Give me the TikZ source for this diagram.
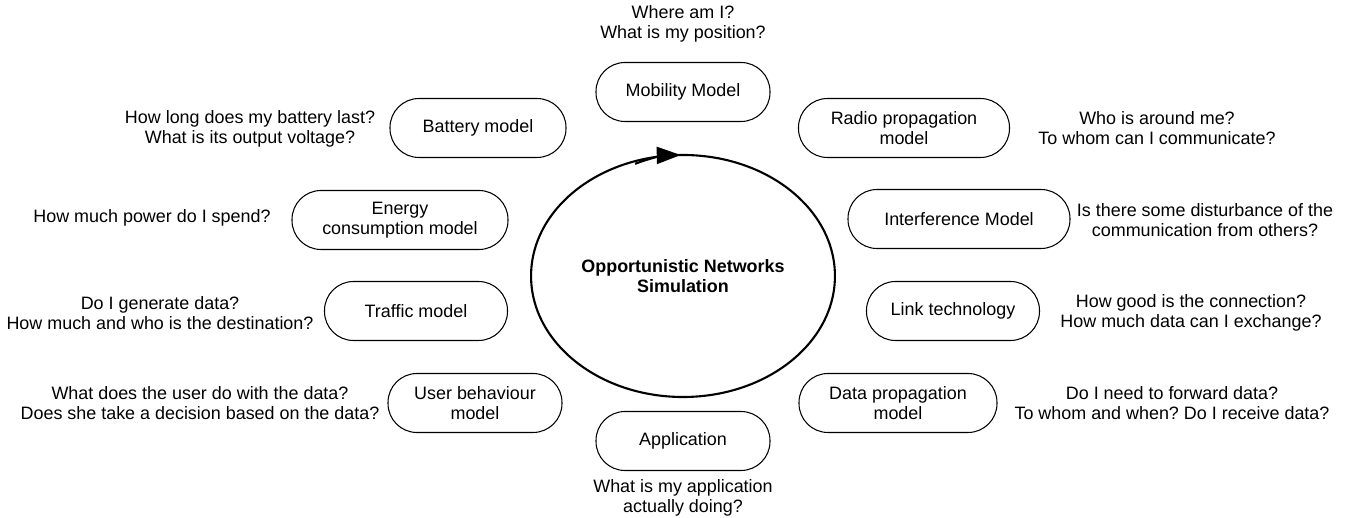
\documentclass[tikz,border=0pt]{standalone}
\usepackage{fontspec}
\setmainfont{Liberation Sans}
\usetikzlibrary{shapes.geometric, arrows.meta}

\begin{document}
\frenchspacing
\begin{tikzpicture}[every node/.style={font=\fontsize{10.2}{11.4}\selectfont},
  model/.style={draw, line width=0.6pt, rounded corners=0.58cm, minimum height=1.18cm, align=center, inner sep=2pt},
  question/.style={align=center, inner sep=0pt}]

\useasboundingbox (0,0) rectangle (27.12,10.36);

% ---- simulation loop ----
\node[draw, ellipse, line width=1.2pt, minimum width=5.12cm, minimum height=4.84cm,
  font=\fontsize{10.2}{11.4}\selectfont\bfseries, align=center] (sim) at (13.66,4.84) {Opportunistic Networks\\Simulation};

\draw[line width=1.2pt, -{Triangle[length=0.48cm, width=0.34cm]}]
  (sim.center) ++(112:2.56cm and 2.42cm) arc[start angle=112, end angle=91, x radius=2.56cm, y radius=2.42cm];

% ---- models ----
\node[model, minimum width=3.48cm] (mob) at (13.66,8.52) {Mobility Model};
\node[model, minimum width=4.22cm] (radio) at (18.08,7.80) {Radio propagation\\model};
\node[model, minimum width=4.44cm] (interf) at (19.18,5.98) {Interference Model};
\node[model, minimum width=3.46cm] (link) at (19.06,4.14) {Link technology};
\node[model, minimum width=3.96cm] (datap) at (17.96,2.30) {Data propagation\\model};
\node[model, minimum width=3.48cm] (app) at (13.66,1.54) {Application};
\node[model, minimum width=3.48cm] (user) at (9.50,2.30) {User behaviour\\model};
\node[model, minimum width=3.66cm] (traffic) at (8.32,4.14) {Traffic model};
\node[model, minimum width=4.32cm] (energy) at (8.00,5.96) {Energy\\consumption model};
\node[model, minimum width=3.52cm] (batt) at (9.56,7.80) {Battery model};

% ---- questions ----
\node[question] (qmob) at (13.66,9.88) {Where am I?\\What is my position?};
\node[question] (qradio) at (23.14,7.80) {Who is around me?\\To whom can I communicate?};
\node[question] (qinterf) at (24.10,5.96) {Is there some disturbance of the\\communication from others?};
\node[question] (qlink) at (23.82,4.10) {How good is the connection?\\How much data can I exchange?};
\node[question] (qdatap) at (23.44,2.30) {Do I need to forward data?\\To whom and when? Do I receive data?};
\node[question] (qapp) at (13.66,0.40) {What is my application\\actually doing?};
\node[question] (quser) at (4.00,2.30) {What does the user do with the data?\\Does she take a decision based on the data?};
\node[question] (qtraffic) at (3.20,4.10) {Do I generate data?\\How much and who is the destination?};
\node[question] (qenergy) at (3.04,6.00) {How much power do I spend?};
\node[question] (qbatt) at (5.00,7.78) {How long does my battery last?\\What is its output voltage?};

\end{tikzpicture}
\end{document}
